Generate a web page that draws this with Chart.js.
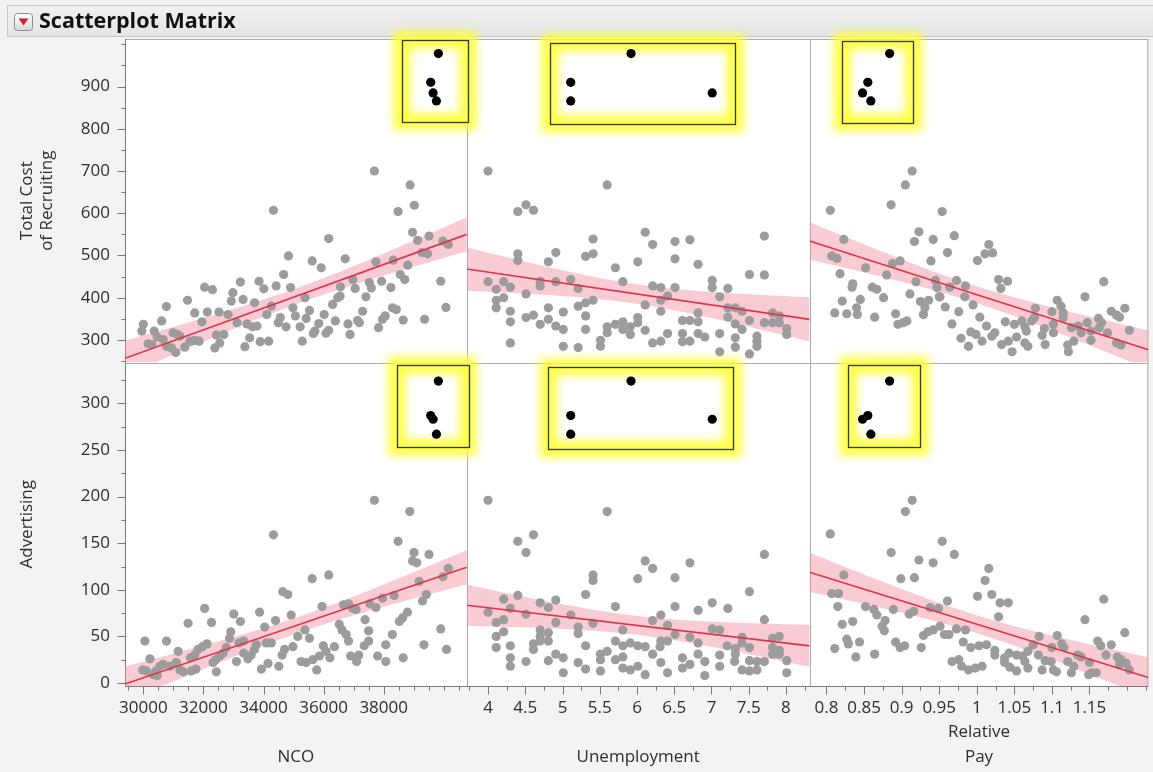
<!DOCTYPE html>
<html>
<head>
<meta charset="utf-8">
<title>Scatterplot Matrix</title>
<script src="https://cdn.jsdelivr.net/npm/chart.js@4.4.1/dist/chart.umd.min.js"></script>
<style>
  html, body { margin: 0; padding: 0; background: #f3f3f3; }
  canvas { display: block; }
</style>
</head>
<body>
<canvas id="matrix" width="1153" height="772"></canvas>
<script>
// ---- tick labels for each variable ----
const costTicks  = [300, 400, 500, 600, 700, 800, 900];
const advTicks   = [0, 50, 100, 150, 200, 250, 300];
const ncoTicks   = [30000, 32000, 34000, 36000, 38000];
const unempTicks = [4, 4.5, 5, 5.5, 6, 6.5, 7, 7.5, 8];
const payTicks   = [0.8, 0.85, 0.9, 0.95, 1, 1.05, 1.1, 1.15];

// minor tick spacing per variable
const costMinor = 50, advMinor = 25, ncoMinor = 500, unempMinor = 0.25, payMinor = 0.025;

// ---- selected (highlighted) rows ----
const selNco   = [39820, 39565, 39645, 39755];
const selUnemp = [5.92, 5.11, 7.01, 5.11];
const selPay   = [0.884, 0.855, 0.848, 0.859];
const selCost  = [978, 910, 885, 866];
const selAdv   = [324, 287, 283, 267];

// ---- highlight boxes around the selected rows: [x0, x1, y0, y1] ----
const boxNcoCost   = [38600, 40810, 817, 1010];
const boxUnempCost = [4.83, 7.32, 812, 1004];
const boxPayCost   = [0.821, 0.916, 815, 1008];
const boxNcoAdv    = [38430, 40810, 253, 341];
const boxUnempAdv  = [4.81, 7.29, 251, 339];
const boxPayAdv    = [0.829, 0.925, 253, 341];

// ---- remaining rows, one list per panel: [x, y] ----
const ncoCost = [[37690,700],[38880,667],[39020,619],[38480,604],[34330,607],[36170,540],[38960,555],[39130,536],[39510,546],[39970,534],[40150,526],[34830,499],[35620,487],[35920,471],[36720,492],[37740,485],[38320,489],[38800,477],[39270,507],[39460,504],[34670,455],[34420,428],[34900,424],[33850,439],[34010,421],[33230,437],[32980,412],[32930,392],[33320,396],[33700,388],[32040,425],[32300,419],[31470,394],[30770,379],[31710,364],[32130,366],[32520,366],[32820,360],[31950,343],[33120,341],[34110,360],[34260,380],[35380,400],[34980,376],[35060,357],[35530,370],[35420,351],[36020,360],[35840,339],[35710,321],[35660,315],[36080,316],[36170,323],[36390,345],[36300,384],[36470,400],[36550,404],[36560,426],[36970,443],[37050,422],[37300,368],[37410,402],[37520,436],[37590,423],[37930,439],[38240,424],[38420,372],[38290,376],[38050,357],[37960,349],[37830,329],[38650,347],[38550,455],[38700,443],[39360,349],[39900,439],[40070,377],[36810,338],[36880,313],[37130,346],[37190,341],[34560,353],[34490,341],[34750,331],[35220,331],[35290,297],[33450,338],[33630,331],[33780,333],[33540,305],[33380,284],[33890,296],[34170,297],[32380,281],[32540,293],[32430,312],[32680,313],[31380,283],[31550,297],[31710,299],[31860,297],[30990,317],[31130,313],[30940,281],[31080,270],[30660,301],[30460,307],[30360,321],[30610,345],[30000,337],[29950,321],[30160,291],[30280,289],[30770,285],[31220,309]];

const unempCost = [[4.00,700],[5.60,667],[4.40,604],[4.51,620],[4.61,607],[5.41,539],[6.11,555],[6.21,526],[6.51,533],[6.71,537],[7.71,546],[4.40,504],[4.40,488],[4.91,507],[4.81,485],[5.31,498],[5.41,504],[5.71,471],[6.01,485],[6.51,492],[6.82,479],[7.51,455],[7.71,454],[4.00,438],[4.11,420],[4.21,438],[4.30,425],[4.51,409],[4.70,439],[4.70,428],[4.91,438],[5.11,443],[5.21,422],[5.81,438],[6.21,428],[6.32,424],[6.51,424],[6.41,404],[6.32,394],[6.11,383],[7.01,441],[7.01,424],[7.22,422],[7.11,402],[4.11,394],[4.11,376],[4.21,400],[4.30,368],[4.30,343],[4.51,353],[4.61,359],[4.70,337],[4.81,376],[4.81,349],[4.91,333],[5.01,325],[5.01,366],[5.21,380],[5.31,388],[5.41,394],[5.31,357],[5.31,325],[5.60,331],[5.60,317],[5.71,337],[5.81,343],[5.81,325],[5.91,331],[5.91,313],[6.01,353],[6.01,341],[6.11,323],[6.32,368],[6.41,315],[6.21,293],[6.32,297],[6.61,346],[6.71,346],[6.82,343],[6.82,364],[6.61,315],[6.61,296],[6.71,297],[6.82,315],[6.91,307],[7.11,315],[7.22,376],[7.22,354],[7.32,376],[7.41,368],[7.51,346],[7.32,338],[7.41,325],[7.11,272],[7.32,305],[7.32,283],[7.51,267],[7.61,309],[7.61,297],[7.61,285],[7.82,364],[7.91,357],[7.82,341],[7.91,341],[8.01,327],[8.01,313],[7.71,341],[4.30,293],[5.01,285],[5.21,282],[5.51,299],[5.51,285]];

const payCost = [[0.914,700],[0.905,667],[0.886,620],[0.805,607],[0.954,604],[0.923,556],[0.917,533],[0.942,538],[0.970,547],[1.016,526],[1.011,504],[1.021,506],[1.001,488],[0.823,538],[0.807,499],[0.814,493],[0.852,471],[0.888,481],[0.898,487],[0.880,454],[0.939,487],[0.961,507],[0.818,457],[0.835,433],[0.834,425],[0.861,425],[0.867,420],[0.876,400],[0.919,438],[0.945,441],[0.947,424],[0.950,402],[0.964,425],[0.973,441],[0.985,428],[0.984,402],[1.029,443],[1.041,439],[1.032,422],[0.821,392],[0.845,396],[0.840,376],[0.827,362],[0.811,364],[0.841,360],[0.864,354],[0.892,362],[0.895,337],[0.902,341],[0.907,345],[0.911,409],[0.925,391],[0.936,394],[0.931,376],[0.929,360],[0.951,402],[0.958,378],[0.967,338],[0.976,367],[0.995,383],[1.004,354],[1.013,333],[1.024,317],[1.020,309],[0.979,304],[0.989,285],[0.992,319],[0.999,313],[1.007,297],[1.033,289],[1.042,297],[1.047,272],[1.053,307],[1.064,293],[1.068,285],[1.038,343],[1.050,337],[1.060,345],[1.064,331],[1.066,321],[1.073,345],[1.078,375],[1.077,353],[1.090,327],[1.087,311],[1.091,289],[1.102,317],[1.102,337],[1.100,367],[1.107,394],[1.112,380],[1.115,364],[1.115,353],[1.121,288],[1.122,272],[1.129,297],[1.126,329],[1.135,333],[1.139,317],[1.144,402],[1.147,341],[1.152,321],[1.152,299],[1.162,351],[1.166,341],[1.163,329],[1.169,438],[1.174,317],[1.179,368],[1.186,359],[1.190,354],[1.197,375],[1.186,293],[1.192,288],[1.203,323]];

const ncoAdv = [[37690,196],[38870,184],[34330,159],[38480,152],[39010,140],[38960,131],[39100,129],[39510,138],[40150,123],[39970,114],[35620,112],[36170,116],[34640,98],[34810,95],[39180,109],[39420,95],[39290,88],[35950,82],[34920,73],[34400,67],[33870,76],[34040,60],[33010,74],[33230,66],[32910,55],[32870,48],[32040,80],[32270,65],[31490,64],[30770,45],[30050,45],[36660,84],[36830,85],[36970,80],[37080,79],[36520,63],[36610,57],[36750,52],[36830,45],[37380,68],[37540,85],[37740,81],[37960,91],[38350,94],[38630,70],[38790,76],[38520,66],[37500,56],[38290,52],[38070,41],[37500,45],[37350,40],[37170,30],[37100,23],[36900,29],[37800,29],[38070,23],[38650,27],[39340,41],[39900,58],[40090,36],[35380,57],[35140,50],[35530,48],[34980,39],[34700,36],[34620,30],[35250,23],[35420,22],[35640,25],[35860,29],[35990,40],[36080,34],[36210,27],[36360,39],[35770,14],[34510,18],[34150,21],[33930,15],[34260,43],[34090,43],[33760,41],[33700,36],[33590,30],[33480,26],[33340,32],[33100,23],[33340,45],[33180,43],[32760,38],[32650,32],[32540,29],[32410,25],[32320,22],[32430,12],[32120,42],[31970,39],[31820,36],[31710,30],[31570,27],[31750,15],[31600,13],[31330,12],[31220,14],[31100,22],[30880,18],[30660,20],[30550,18],[30420,13],[30220,26],[29980,14],[30110,13],[30330,9],[30460,8],[31160,34]];

const unempAdv = [[4.00,196],[5.60,184],[4.40,152],[4.61,159],[4.51,140],[6.11,131],[6.21,123],[6.71,129],[7.71,138],[5.41,116],[5.41,110],[6.01,112],[6.51,113],[5.31,95],[7.51,98],[4.40,94],[4.21,90],[5.71,82],[6.51,82],[7.01,86],[6.82,78],[7.22,80],[4.30,80],[4.00,76],[4.70,86],[4.81,81],[4.91,89],[4.51,74],[5.11,73],[4.11,65],[4.21,68],[4.91,65],[5.41,64],[6.21,67],[6.32,73],[6.41,62],[7.71,68],[7.01,58],[7.11,57],[4.11,50],[4.21,55],[4.70,57],[4.81,54],[4.70,50],[5.21,60],[5.21,53],[5.81,57],[6.51,52],[6.71,49],[7.41,49],[7.41,43],[7.82,48],[7.91,50],[4.11,38],[4.30,40],[4.61,42],[4.61,36],[4.70,45],[4.81,45],[5.31,40],[5.71,45],[5.81,40],[5.91,43],[6.01,40],[6.11,39],[6.32,45],[6.41,45],[6.31,39],[6.82,43],[7.21,40],[7.32,37],[7.32,31],[7.51,38],[7.82,38],[7.91,35],[7.82,31],[7.91,31],[4.30,27],[4.30,18],[4.51,23],[4.81,24],[4.91,31],[5.01,27],[5.21,22],[5.31,15],[5.51,31],[5.51,25],[5.60,34],[5.71,25],[5.81,28],[5.81,16],[5.91,14],[6.01,18],[5.51,13],[5.01,11],[6.11,9],[6.21,31],[6.32,22],[6.41,11],[6.61,27],[6.61,16],[6.71,20],[6.82,31],[6.91,23],[6.91,8],[7.11,30],[7.11,18],[7.31,23],[7.41,14],[7.51,13],[7.61,14],[7.51,24],[7.61,23],[7.71,23],[8.01,24],[8.01,11]];

const payAdv = [[0.914,196],[0.905,184],[0.805,160],[0.954,152],[0.886,140],[0.970,138],[0.923,132],[0.942,129],[1.016,123],[1.011,110],[0.823,116],[0.899,112],[0.917,113],[1.001,93],[1.020,95],[0.807,96],[0.816,96],[0.815,82],[0.961,88],[0.852,82],[0.863,79],[0.889,79],[0.910,74],[0.916,77],[0.938,81],[0.949,80],[1.031,86],[1.042,86],[1.029,71],[0.821,63],[0.835,66],[0.867,73],[0.878,67],[0.874,61],[0.877,56],[0.827,47],[0.829,42],[0.844,44],[0.811,37],[0.839,28],[0.864,31],[0.892,44],[0.898,38],[0.904,40],[0.926,38],[0.929,51],[0.935,55],[0.942,57],[0.951,61],[0.957,52],[0.963,52],[0.973,58],[0.985,57],[0.982,44],[0.992,38],[1.003,40],[1.013,41],[0.967,23],[0.976,25],[0.980,18],[0.989,14],[0.998,16],[1.007,18],[1.024,35],[1.024,30],[1.037,27],[1.037,22],[1.044,17],[1.053,13],[1.043,32],[1.053,30],[1.061,29],[1.068,34],[1.064,23],[1.068,16],[1.075,41],[1.083,50],[1.087,14],[1.091,24],[1.099,23],[1.102,14],[1.106,12],[1.100,38],[1.107,51],[1.113,42],[1.116,38],[1.121,23],[1.126,11],[1.129,18],[1.134,30],[1.139,28],[1.144,68],[1.149,9],[1.153,11],[1.159,11],[1.161,45],[1.165,40],[1.169,90],[1.172,30],[1.179,41],[1.187,28],[1.192,25],[1.197,54],[1.199,21],[1.203,14],[1.190,20],[1.150,22],[1.082,30]];

// ---- axis ranges ----
const ranges = {
  xNco:   [29390, 40766],
  xUnemp: [3.715, 8.317],
  xPay:   [0.7775, 1.2284],
  yCost:  [246.6, 1012.6],
  yAdv:   [-3.2, 343.9]
};

const FONT = "'Open Sans', 'Noto Sans', 'DejaVu Sans', sans-serif";
const TEXT = '#2e2e2e';
const T95 = 1.98;   // t quantile for the 95% mean confidence band

// least-squares line with its confidence band
function linFit(pts) {
  const n = pts.length;
  let mx = 0, my = 0;
  pts.forEach(p => { mx += p[0]; my += p[1]; });
  mx /= n; my /= n;
  let sxx = 0, sxy = 0;
  pts.forEach(p => { sxx += (p[0] - mx) ** 2; sxy += (p[0] - mx) * (p[1] - my); });
  const b = sxy / sxx, a = my - b * mx;
  let sse = 0;
  pts.forEach(p => { const r = p[1] - (a + b * p[0]); sse += r * r; });
  const s = Math.sqrt(sse / (n - 2));
  return {
    at: x => a + b * x,
    half: x => T95 * s * Math.sqrt(1 / n + (x - mx) ** 2 / sxx)
  };
}

const panels = [
  { x: 'xNco',   y: 'yCost', pts: ncoCost,   sx: selNco,   sy: selCost, box: boxNcoCost },
  { x: 'xUnemp', y: 'yCost', pts: unempCost, sx: selUnemp, sy: selCost, box: boxUnempCost },
  { x: 'xPay',   y: 'yCost', pts: payCost,   sx: selPay,   sy: selCost, box: boxPayCost },
  { x: 'xNco',   y: 'yAdv',  pts: ncoAdv,    sx: selNco,   sy: selAdv,  box: boxNcoAdv },
  { x: 'xUnemp', y: 'yAdv',  pts: unempAdv,  sx: selUnemp, sy: selAdv,  box: boxUnempAdv },
  { x: 'xPay',   y: 'yAdv',  pts: payAdv,    sx: selPay,   sy: selAdv,  box: boxPayAdv }
];

const datasets = [];
panels.forEach(p => {
  const all = p.pts.concat(p.sx.map((v, i) => [v, p.sy[i]]));
  const f = linFit(all);
  const [x0, x1] = ranges[p.x];
  const [y0, y1] = ranges[p.y];
  const clampY = v => Math.max(y0, Math.min(y1, v));
  const upper = [], lower = [];
  const STEPS = 80;
  for (let i = 0; i <= STEPS; i++) {
    const x = x0 + (x1 - x0) * i / STEPS;
    upper.push({ x, y: clampY(f.at(x) + f.half(x)) });
    lower.push({ x, y: clampY(f.at(x) - f.half(x)) });
  }
  const common = { xAxisID: p.x, yAxisID: p.y };
  datasets.push(Object.assign({ data: upper, showLine: true, pointRadius: 0, borderWidth: 0,
    fill: '+1', backgroundColor: 'rgba(242,140,158,0.45)', order: 4 }, common));
  datasets.push(Object.assign({ data: lower, showLine: true, pointRadius: 0, borderWidth: 0,
    fill: false, order: 4 }, common));
  datasets.push(Object.assign({ data: p.pts.map(q => ({ x: q[0], y: q[1] })), pointRadius: 4.6,
    pointBackgroundColor: '#9c9c9c', pointBorderWidth: 0, order: 3 }, common));
  datasets.push(Object.assign({ data: [{ x: x0, y: f.at(x0) }, { x: x1, y: f.at(x1) }], showLine: true,
    pointRadius: 0, borderColor: '#df3349', borderWidth: 1.6, fill: false, order: 2 }, common));
  datasets.push(Object.assign({ data: p.sx.map((v, i) => ({ x: v, y: p.sy[i] })), pointRadius: 4.6,
    pointBackgroundColor: '#000', pointBorderWidth: 0, order: 1 }, common));
});

function setTicks(list) {
  return s => { s.ticks = list.map(v => ({ value: v })); };
}

// keep the axis boxes at a fixed size so the panels line up
function fixSize(prop, size) {
  return s => {
    s[prop] = size;
    s.paddingLeft = 0; s.paddingRight = 0; s.paddingTop = 0; s.paddingBottom = 0;
  };
}

function xAxis(id, title, list, weight, stackWeight) {
  return {
    type: 'linear', position: 'bottom', stack: 'cols', stackWeight, weight,
    min: ranges[id][0], max: ranges[id][1],
    afterBuildTicks: setTicks(list),
    afterFit: fixSize('height', 86),
    grid: { display: false, drawTicks: false },
    border: { display: false },
    ticks: { autoSkip: false, maxRotation: 0, minRotation: 0, padding: 12, color: TEXT,
      font: { family: FONT, size: 17 }, callback: v => String(v) },
    title: { display: true, text: title, color: TEXT,
      font: { family: FONT, size: 17, lineHeight: '25px' }, padding: { top: 0, bottom: 2.5 } }
  };
}

function yAxis(id, title, list, weight) {
  return {
    type: 'linear', position: 'left', stack: 'rows', stackWeight: 1, weight,
    min: ranges[id][0], max: ranges[id][1],
    afterBuildTicks: setTicks(list),
    afterFit: fixSize('width', 125),
    grid: { display: false, drawTicks: false },
    border: { display: false },
    ticks: { autoSkip: false, padding: 15, color: TEXT,
      font: { family: FONT, size: 17 }, callback: v => String(v) },
    title: { display: true, text: title, color: TEXT,
      font: { family: FONT, size: 17, lineHeight: '20px' }, padding: { top: 17, bottom: 0 } }
  };
}

const tickSpec = {
  xNco: [ncoTicks, ncoMinor], xUnemp: [unempTicks, unempMinor], xPay: [payTicks, payMinor],
  yCost: [costTicks, costMinor], yAdv: [advTicks, advMinor]
};

function boxPixels(chart, p) {
  const xs = chart.scales[p.x], ys = chart.scales[p.y];
  const l = xs.getPixelForValue(p.box[0]), r = xs.getPixelForValue(p.box[1]);
  const t = ys.getPixelForValue(p.box[3]), b = ys.getPixelForValue(p.box[2]);
  return [l, t, r - l, b - t];
}

const framePlugin = {
  id: 'matrixFrame',
  beforeDraw(chart) {
    const ctx = chart.ctx, W = chart.width, H = chart.height, a = chart.chartArea;
    ctx.save();
    ctx.fillStyle = '#f3f3f3';
    ctx.fillRect(0, 0, W, H);
    // outline header bar
    const g = ctx.createLinearGradient(0, 5, 0, 37);
    g.addColorStop(0, '#f2f2f2');
    g.addColorStop(1, '#e4e4e4');
    ctx.fillStyle = g;
    ctx.fillRect(7.5, 5.5, W - 7, 31);
    ctx.strokeStyle = '#c6c6c6';
    ctx.lineWidth = 1;
    ctx.strokeRect(7.5, 5.5, W - 7, 31);
    // disclosure button
    const bx = 14.5, by = 13.5, bw = 18, bh = 17, rr = 3;
    ctx.beginPath();
    ctx.moveTo(bx + rr, by);
    ctx.lineTo(bx + bw - rr, by); ctx.quadraticCurveTo(bx + bw, by, bx + bw, by + rr);
    ctx.lineTo(bx + bw, by + bh - rr); ctx.quadraticCurveTo(bx + bw, by + bh, bx + bw - rr, by + bh);
    ctx.lineTo(bx + rr, by + bh); ctx.quadraticCurveTo(bx, by + bh, bx, by + bh - rr);
    ctx.lineTo(bx, by + rr); ctx.quadraticCurveTo(bx, by, bx + rr, by);
    const bg = ctx.createLinearGradient(0, by, 0, by + bh);
    bg.addColorStop(0, '#ffffff');
    bg.addColorStop(1, '#d9d9d9');
    ctx.fillStyle = bg;
    ctx.fill();
    ctx.strokeStyle = '#8c8c8c';
    ctx.stroke();
    ctx.beginPath();
    ctx.moveTo(18.5, 18.5); ctx.lineTo(28.5, 18.5); ctx.lineTo(23.5, 25.5); ctx.closePath();
    ctx.fillStyle = '#d3202c';
    ctx.fill();
    // header text
    ctx.fillStyle = '#111111';
    ctx.font = 'bold 21.5px ' + FONT;
    ctx.textBaseline = 'middle';
    ctx.textAlign = 'left';
    ctx.fillText('Scatterplot Matrix', 39, 21.5);
    // plot frames
    ctx.fillStyle = '#ffffff';
    ctx.fillRect(a.left, a.top, a.right - a.left, a.bottom - a.top);
    ctx.restore();
  },
  beforeDatasetsDraw(chart) {
    const ctx = chart.ctx, a = chart.chartArea, s = chart.scales;
    ctx.save();
    ctx.lineWidth = 1;
    ctx.strokeStyle = '#a8a8a8';
    ctx.beginPath();
    [s.xUnemp.left, s.xPay.left].forEach(x => {
      const px = Math.round(x) + 0.5;
      ctx.moveTo(px, a.top); ctx.lineTo(px, a.bottom);
    });
    const hy = Math.round(s.yAdv.top) + 0.5;
    ctx.moveTo(a.left, hy); ctx.lineTo(a.right, hy);
    ctx.moveTo(a.left, a.top + 0.5); ctx.lineTo(a.right, a.top + 0.5);
    ctx.moveTo(a.right - 0.5, a.top); ctx.lineTo(a.right - 0.5, a.bottom);
    ctx.stroke();
    ctx.strokeStyle = '#7a7a7a';
    ctx.beginPath();
    ctx.moveTo(a.left + 0.5, a.top); ctx.lineTo(a.left + 0.5, a.bottom + 0.5);
    ctx.lineTo(a.right, a.bottom + 0.5);
    ctx.stroke();
    // yellow glow round the highlight boxes
    panels.forEach(p => {
      const [l, t, w, h] = boxPixels(chart, p);
      ctx.save();
      ctx.filter = 'blur(4px)';
      ctx.strokeStyle = 'rgba(255,255,50,0.9)';
      ctx.lineWidth = 17;
      ctx.strokeRect(l, t, w, h);
      ctx.restore();
    });
    ctx.restore();
  },
  afterDatasetsDraw(chart) {
    const ctx = chart.ctx, a = chart.chartArea, s = chart.scales;
    ctx.save();
    // tick marks, long at labelled values, short in between
    ctx.strokeStyle = '#777777';
    ctx.lineWidth = 1;
    ctx.beginPath();
    Object.keys(tickSpec).forEach(id => {
      const sc = s[id];
      const [major, step] = tickSpec[id];
      const lo = ranges[id][0], hi = ranges[id][1];
      const first = Math.ceil(lo / step - 1e-9);
      for (let k = first; k * step <= hi + 1e-9; k++) {
        const v = k * step;
        const isMajor = major.some(m => Math.abs(m - v) < step * 1e-3);
        const len = isMajor ? 8 : 4;
        const px = Math.round(sc.getPixelForValue(v)) + 0.5;
        if (sc.isHorizontal()) {
          ctx.moveTo(px, a.bottom + 0.5); ctx.lineTo(px, a.bottom + 0.5 + len);
        } else {
          ctx.moveTo(a.left + 0.5, px); ctx.lineTo(a.left + 0.5 - len, px);
        }
      }
    });
    ctx.stroke();
    // outline of the highlight boxes
    ctx.strokeStyle = '#2e3b3b';
    ctx.lineWidth = 1.3;
    panels.forEach(p => {
      const [l, t, w, h] = boxPixels(chart, p);
      ctx.strokeRect(Math.round(l) + 0.5, Math.round(t) + 0.5, Math.round(w), Math.round(h));
    });
    ctx.restore();
  }
};

new Chart(document.getElementById('matrix'), {
  type: 'scatter',
  data: { datasets },
  options: {
    responsive: false,
    animation: false,
    events: [],
    layout: { padding: { top: 39, right: 1, bottom: 0, left: 0 } },
    plugins: { legend: { display: false }, tooltip: { enabled: false } },
    scales: {
      xNco:   xAxis('xNco', 'NCO', ncoTicks, 0, 343),
      xUnemp: xAxis('xUnemp', 'Unemployment', unempTicks, 1, 344),
      xPay:   xAxis('xPay', ['Relative', 'Pay'], payTicks, 2, 340),
      yCost:  yAxis('yCost', ['Total Cost', 'of Recruiting'], costTicks, 1),
      yAdv:   yAxis('yAdv', 'Advertising', advTicks, 0)
    }
  },
  plugins: [framePlugin]
});
</script>
</body>
</html>
